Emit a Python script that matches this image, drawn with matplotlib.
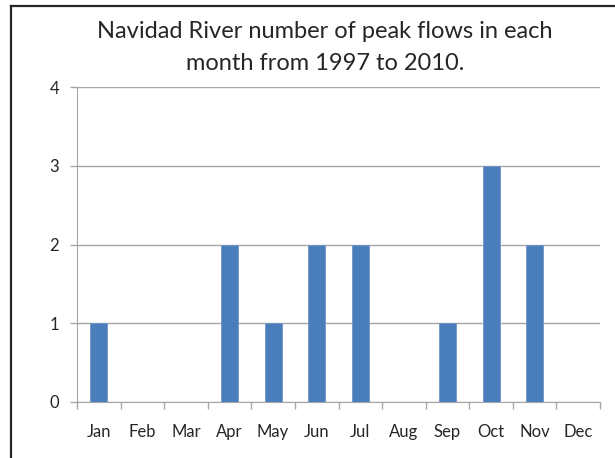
import matplotlib.pyplot as plt
from matplotlib.lines import Line2D

months = ['Jan', 'Feb', 'Mar', 'Apr', 'May', 'Jun', 'Jul', 'Aug', 'Sep', 'Oct', 'Nov', 'Dec']
peaks = [1, 0, 0, 2, 1, 2, 2, 0, 1, 3, 2, 0]

plt.rcParams['font.family'] = ['Lato', 'DejaVu Sans']

W, H = 615, 458
fig = plt.figure(figsize=(W / 100, H / 100), dpi=100)
ax = fig.add_axes([77 / W, 1 - 402 / H, (600 - 77) / W, (402 - 87) / H])

x = list(range(len(months)))
ax.bar(x, peaks, width=0.39, color='#4a7ebb', edgecolor='#6f95c8', linewidth=0.6, zorder=3)

ax.set_xlim(-0.5, 11.5)
ax.set_ylim(0, 4)
ax.set_yticks([0, 1, 2, 3, 4])
ax.yaxis.grid(True, color='#a6a6a6', linewidth=1.0, zorder=0)

# category labels centred, ticks between categories
ax.set_xticks(x)
ax.set_xticklabels(months, fontsize=12, color='#262626')
ax.set_xticks([i - 0.5 for i in range(13)], minor=True)
ax.tick_params(axis='x', which='major', length=0, pad=16)
ax.tick_params(axis='x', which='minor', length=5, color='#a6a6a6', width=1)
ax.tick_params(axis='y', length=5, color='#a6a6a6', width=1, labelsize=12,
               labelcolor='#262626', pad=8)

for s in ['top', 'right']:
    ax.spines[s].set_visible(False)
ax.spines['left'].set_color('#a6a6a6')
ax.spines['bottom'].set_color('#a6a6a6')

fig.text(325 / W, 1 - 47.5 / H, 'Navidad River number of peak flows in each\nmonth from 1997 to 2010.',
         ha='center', va='center', fontsize=17, color='#262626', linespacing=1.65)

# chart border
fig.add_artist(Line2D([11 / W, 11 / W], [0, 1 - 6 / H], color='#262626', linewidth=1.6,
                      transform=fig.transFigure))
fig.add_artist(Line2D([11 / W, 1], [1 - 6 / H, 1 - 6 / H], color='#262626', linewidth=1.6,
                      transform=fig.transFigure))

fig.savefig('out.png', dpi=100)
